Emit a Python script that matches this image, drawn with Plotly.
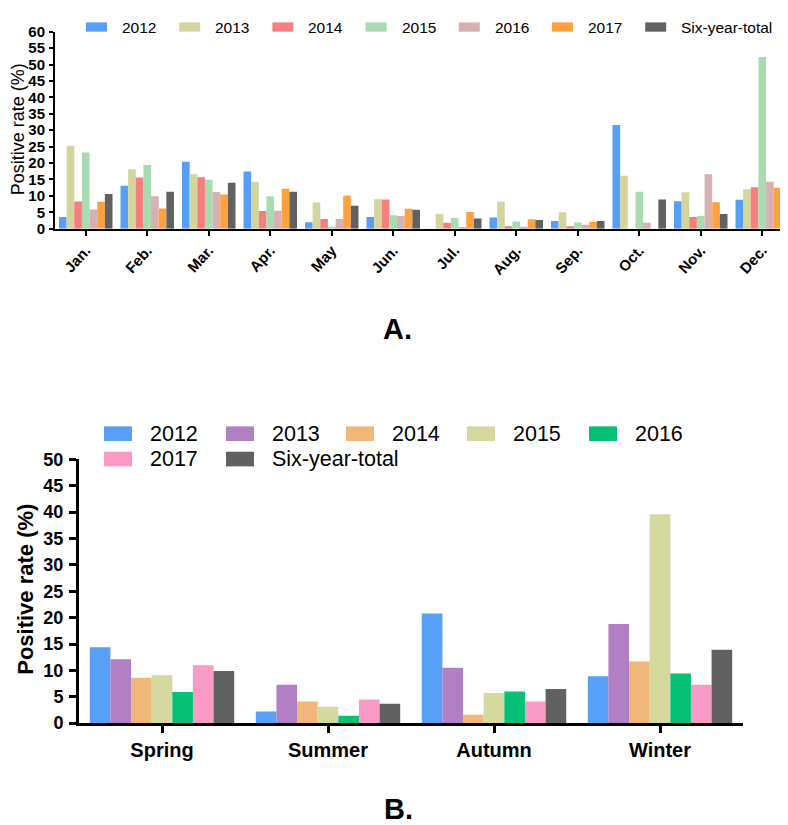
import plotly.graph_objects as go

W, H = 788, 825

months = ["Jan.", "Feb.", "Mar.", "Apr.", "May", "Jun.", "Jul.", "Aug.", "Sep.", "Oct.", "Nov.", "Dec."]
series_a = ["2012", "2013", "2014", "2015", "2016", "2017", "Six-year-total"]
m2012 = [3.6, 13.1, 20.4, 17.4, 2.0, 3.6, 0.0, 3.4, 2.4, 31.6, 8.4, 8.8]
m2013 = [25.3, 18.1, 16.6, 14.3, 8.0, 9.0, 4.5, 8.2, 5.0, 16.1, 11.1, 12.0]
m2014 = [8.3, 15.6, 15.7, 5.4, 3.0, 8.9, 1.8, 0.8, 0.8, 0.0, 3.6, 12.6]
m2015 = [23.2, 19.4, 14.9, 9.9, 0.6, 4.1, 3.3, 2.2, 1.9, 11.3, 3.9, 52.3]
m2016 = [5.9, 9.9, 11.2, 5.5, 3.0, 3.9, 0.5, 0.6, 1.2, 1.8, 16.6, 14.3]
m2017 = [8.2, 6.2, 10.4, 12.2, 10.1, 6.1, 5.1, 2.9, 2.1, 0.0, 8.1, 12.5]
mtotal = [10.6, 11.3, 14.0, 11.3, 7.0, 5.8, 3.1, 2.7, 2.4, 8.9, 4.5, 21.4]
colors_a = ["#579ff5", "#d4d59c", "#f57f7f", "#a8dcb0", "#d7b1b1", "#ffa13f", "#616161"]

seasons = ["Spring", "Summer", "Autumn", "Winter"]
series_b = ["2012", "2013", "2014", "2015", "2016", "2017", "Six-year-total"]
s2012 = [14.4, 2.2, 20.8, 8.9]
s2013 = [12.1, 7.3, 10.5, 18.8]
s2014 = [8.6, 4.1, 1.6, 11.7]
s2015 = [9.1, 3.1, 5.7, 39.6]
s2016 = [5.9, 1.4, 6.0, 9.4]
s2017 = [11.0, 4.5, 4.1, 7.3]
stotal = [9.9, 3.7, 6.5, 13.9]
colors_b = ["#56a0f7", "#b07fc4", "#f0b67a", "#d5d89f", "#06c076", "#f99bc6", "#616161"]

yticks_a = list(range(0, 61, 5))
yticks_b = list(range(0, 51, 5))

FONT = "Arial, Liberation Sans, sans-serif"

def px(x):
    return x / W

def py(y):
    return 1 - y / H

fig = go.Figure()

vals_a = [m2012, m2013, m2014, m2015, m2016, m2017, mtotal]
for name, vals, col in zip(series_a, vals_a, colors_a):
    fig.add_trace(go.Bar(x=months, y=vals, name=name, marker=dict(color=col, line=dict(width=0)),
                         xaxis="x", yaxis="y", showlegend=False))

vals_b = [s2012, s2013, s2014, s2015, s2016, s2017, stotal]
for name, vals, col in zip(series_b, vals_b, colors_b):
    fig.add_trace(go.Bar(x=seasons, y=vals, name=name, marker=dict(color=col, line=dict(width=0)),
                         xaxis="x2", yaxis="y2", showlegend=False))

axis_common = dict(showline=True, linecolor="black", showgrid=False, zeroline=False,
                   ticks="outside", tickcolor="black")

fig.update_layout(
    width=W, height=H,
    margin=dict(l=0, r=0, t=0, b=0),
    paper_bgcolor="white", plot_bgcolor="white",
    barmode="group", bargap=0.13, bargroupgap=0,
    font=dict(family=FONT, color="black"),
    xaxis=dict(domain=[px(47), px(785)], anchor="y", range=[-0.5, 11.5],
               linewidth=2, ticklen=5, tickwidth=2, tickangle=-48,
               tickfont=dict(size=15, weight="bold", family=FONT), **axis_common),
    yaxis=dict(domain=[py(216), py(14)], anchor="x", range=[0, 60],
               tickvals=yticks_a, linewidth=2, ticklen=4, tickwidth=2,
               tickfont=dict(size=15, weight="bold", family=FONT), ticklabelstandoff=1,
               **axis_common),
    xaxis2=dict(domain=[px(71), px(735)], anchor="y2", range=[-0.5, 3.5],
                linewidth=3, ticklen=7, tickwidth=3,
                tickfont=dict(size=20, weight="bold", family=FONT), **axis_common),
    yaxis2=dict(domain=[py(722.7), py(452.3)], anchor="x2", range=[0, 50],
                tickvals=yticks_b, linewidth=3, ticklen=7, tickwidth=3,
                tickfont=dict(size=18, weight="bold", family=FONT), ticklabelstandoff=2,
                **axis_common),
)

shapes = []
annotations = []

# Legend A
for i, (name, col) in enumerate(zip(series_a, colors_a)):
    x0 = 78 + i * 93.2
    shapes.append(dict(type="rect", xref="paper", yref="paper",
                       x0=px(x0), x1=px(x0 + 21), y0=py(14), y1=py(4.5),
                       fillcolor=col, line=dict(width=0)))
    annotations.append(dict(text=name, xref="paper", yref="paper", x=px(x0 + 34), y=py(9.5),
                            xanchor="left", yanchor="middle", showarrow=False,
                            font=dict(size=15.5, family=FONT, color="black")))

# Legend B
legend_b_pos = [(96, 426), (218, 426), (338, 426), (459, 426), (581, 426), (96, 452), (218, 452)]
for (x0, yc), name, col in zip(legend_b_pos, series_b, colors_b):
    shapes.append(dict(type="rect", xref="paper", yref="paper",
                       x0=px(x0), x1=px(x0 + 28), y0=py(yc + 7.5), y1=py(yc - 7.5),
                       fillcolor=col, line=dict(width=0)))
    annotations.append(dict(text=name, xref="paper", yref="paper", x=px(x0 + 44), y=py(yc),
                            xanchor="left", yanchor="middle", showarrow=False,
                            font=dict(size=21.5, family=FONT, color="black")))

# Axis titles
annotations.append(dict(text="Positive rate (%)", xref="paper", yref="paper", x=px(10), y=py(114),
                        textangle=-90, xanchor="center", yanchor="middle", showarrow=False,
                        font=dict(size=18, family=FONT, color="black")))
annotations.append(dict(text="Positive rate (%)", xref="paper", yref="paper", x=px(18), y=py(586),
                        textangle=-90, xanchor="center", yanchor="middle", showarrow=False,
                        font=dict(size=22, weight="bold", family=FONT, color="black")))

# Panel labels
annotations.append(dict(text="A.", xref="paper", yref="paper", x=px(389), y=py(319),
                        xanchor="center", yanchor="middle", showarrow=False,
                        font=dict(size=29, weight="bold", family=FONT, color="black")))
annotations.append(dict(text="B.", xref="paper", yref="paper", x=px(390), y=py(811),
                        xanchor="center", yanchor="middle", showarrow=False,
                        font=dict(size=29, weight="bold", family=FONT, color="black")))

fig.update_layout(shapes=shapes, annotations=annotations)

fig.write_html("out.html")
